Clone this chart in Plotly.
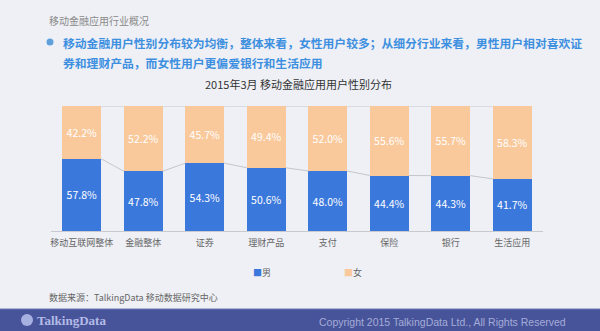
import plotly.graph_objects as go

categories = ["移动互联网整体", "金融整体", "证券", "理财产品", "支付", "保险", "银行", "生活应用"]
male = [57.8, 47.8, 54.3, 50.6, 48.0, 44.4, 44.3, 41.7]
female = [42.2, 52.2, 45.7, 49.4, 52.0, 55.6, 55.7, 58.3]
series_names = ["男", "女"]

BLUE = "#3b78dc"
ORANGE = "#f9c99c"
BG = "#eef0f5"
CJK = "Noto Sans CJK SC"

W, H = 600, 331
L, R, T, B = 51, 57, 106, 100
PW, PH = W - L - R, H - T - B


def px(x):
    return (x - L) / PW


def py(y):
    return (H - B - y) / PH


BW = 0.63
xs = list(range(len(categories)))

fig = go.Figure()
fig.add_trace(go.Bar(
    x=xs, y=male, name=series_names[0], marker=dict(color=BLUE, line=dict(width=0)),
    width=BW, text=[f"{v:.1f}%" for v in male], textposition="inside",
    insidetextanchor="middle", constraintext="none", showlegend=False,
    textfont=dict(color="white", size=10.5, family=CJK),
))
fig.add_trace(go.Bar(
    x=xs, y=female, name=series_names[1], marker=dict(color=ORANGE, line=dict(width=0)),
    width=BW, text=[f"{v:.1f}%" for v in female], textposition="inside",
    insidetextanchor="middle", constraintext="none", showlegend=False,
    textfont=dict(color="white", size=10.5, family=CJK),
))

# series connector lines between adjacent bars
tot = [m + f for m, f in zip(male, female)]
for vals in (male, tot):
    lx, ly = [], []
    for i in range(len(vals) - 1):
        lx += [xs[i] + BW / 2, xs[i + 1] - BW / 2, None]
        ly += [vals[i], vals[i + 1], None]
    fig.add_trace(go.Scatter(x=lx, y=ly, mode="lines", showlegend=False,
                             line=dict(color="#c4c6cc", width=1), hoverinfo="skip"))

shapes = [
    dict(type="rect", xref="paper", yref="paper", x0=px(0), x1=px(W), y0=py(309), y1=py(H),
         fillcolor="#48549a", line=dict(width=0), layer="above"),
    dict(type="line", xref="paper", yref="paper", x0=px(0), x1=px(W), y0=py(309), y1=py(309),
         line=dict(color="#6b76b5", width=1), layer="above"),
    dict(type="circle", xref="paper", yref="paper", x0=px(46.5), x1=px(53.5), y0=py(38.5), y1=py(45.5),
         fillcolor="#5fa0dc", line=dict(width=0)),
    dict(type="circle", xref="paper", yref="paper", x0=px(21), x1=px(33), y0=py(314), y1=py(326),
         fillcolor="#a7b1df", line=dict(width=0), layer="above"),
]

ann = [
    dict(text="移动金融应用行业概况", x=px(47), y=py(20), font=dict(size=10, color="#8a8a8a", family=CJK),
         xanchor="left"),
    dict(text="<b>移动金融用户性别分布较为均衡，整体来看，女性用户较多；从细分行业来看，男性用户相对喜欢证</b>",
         x=px(61), y=py(42), font=dict(size=11.8, color="#3d8fe0", family=CJK), xanchor="left"),
    dict(text="<b>券和理财产品，而女性用户更偏爱银行和生活应用</b>",
         x=px(61), y=py(63), font=dict(size=11.8, color="#3d8fe0", family=CJK), xanchor="left"),
    dict(text="2015年3月 移动金融应用用户性别分布", x=px(298), y=py(84),
         font=dict(size=11, color="#333333", family=CJK), xanchor="center"),
    dict(text="数据来源：TalkingData 移动数据研究中心", x=px(47), y=py(297),
         font=dict(size=9, color="#666666", family=CJK), xanchor="left"),
    dict(text="<b>TalkingData</b>", x=px(35), y=py(320),
         font=dict(size=13, color="#b3bbe6", family="Liberation Sans Narrow"), xanchor="left"),
    dict(text="Copyright 2015 TalkingData Ltd., All Rights Reserved", x=px(568), y=py(321.5),
         font=dict(size=10.5, color="#a4acd8", family="Liberation Sans"), xanchor="right"),
    # legend
    dict(text=f"<span style='color:{BLUE}'>■</span>{series_names[0]}", x=px(251), y=py(272),
         font=dict(size=9, color="#666666", family=CJK), xanchor="left"),
    dict(text=f"<span style='color:{ORANGE}'>■</span>{series_names[1]}", x=px(342), y=py(272),
         font=dict(size=9, color="#666666", family=CJK), xanchor="left"),
]
for a in ann:
    a.update(xref="paper", yref="paper", yanchor="middle", showarrow=False)

fig.update_layout(
    width=W, height=H, margin=dict(l=L, r=R, t=T, b=B),
    paper_bgcolor=BG, plot_bgcolor=BG, barmode="stack",
    font=dict(family=CJK, color="#666666"),
    showlegend=False,
    xaxis=dict(tickmode="array", tickvals=xs, ticktext=categories, range=[-0.5, len(xs) - 0.5],
               showline=True, linecolor="#c8c9cf", linewidth=1, showgrid=False, zeroline=False,
               ticks="", ticklabelstandoff=3, tickfont=dict(size=9, color="#666666", family=CJK)),
    yaxis=dict(range=[0, 100], visible=False, showgrid=False, zeroline=False),
    shapes=shapes, annotations=ann,
)

fig.write_html("out.html")
